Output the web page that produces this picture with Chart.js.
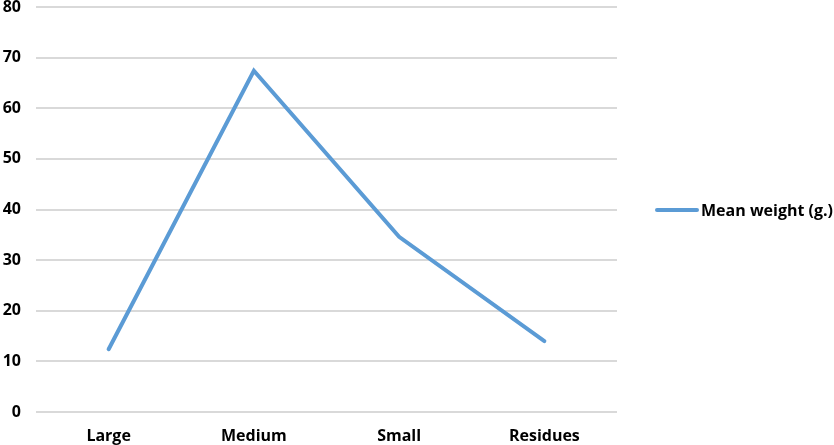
<!DOCTYPE html>
<html>
<head>
<meta charset="utf-8">
<script src="https://cdn.jsdelivr.net/npm/chart.js@4"></script>
<style>
html,body{margin:0;padding:0;background:#fff;}
#wrap{width:834px;height:445px;position:relative;}
#legend{position:absolute;left:655px;top:199px;display:flex;align-items:center;font-family:'Open Sans',Lato,sans-serif;font-weight:bold;font-size:16px;line-height:22px;color:#000;white-space:nowrap;}
#legend .sw{display:inline-block;width:44px;height:4px;border-radius:2px;background:#5B9BD5;margin-right:2px;}
</style>
</head>
<body>
<div id="wrap"><canvas id="c" width="834" height="445"></canvas>
<div id="legend"><span class="sw"></span><span id="legtext"></span></div></div>
<script>
const categories = ["Large", "Medium", "Small", "Residues"];
const meanWeight = [12.4, 67.4, 34.6, 14.0];
const seriesName = "Mean weight (g.)";
const yTicks = [0, 10, 20, 30, 40, 50, 60, 70, 80];

document.getElementById('legtext').textContent = seriesName;
const FONT = "'Open Sans', Lato, sans-serif";
new Chart(document.getElementById('c'), {
  type: 'line',
  data: {
    labels: categories,
    datasets: [{
      label: seriesName,
      data: meanWeight,
      borderColor: '#5B9BD5',
      backgroundColor: '#5B9BD5',
      borderWidth: 4,
      pointRadius: 0,
      tension: 0,
      borderCapStyle: 'round',
      borderJoinStyle: 'miter'
    }]
  },
  options: {
    responsive: false,
    animation: false,
    layout: { padding: { top: 0, left: 0, right: 217, bottom: 0 } },
    plugins: {
      legend: { display: false },
      tooltip: { enabled: false }
    },
    scales: {
      x: {
        offset: true,
        grid: { display: false, drawTicks: false },
        border: { display: false },
        afterFit: (s) => { s.height = 33; },
        ticks: { color: '#000', padding: 15, font: { family: FONT, size: 16, weight: 'bold' } }
      },
      y: {
        min: 0, max: 80,
        afterBuildTicks: (s) => { s.ticks = yTicks.map(v => ({ value: v })); },
        afterFit: (s) => { s.width = 36; s.paddingTop = 7; },
        grid: { color: '#d9d9d9', lineWidth: 2, drawTicks: false },
        border: { display: false },
        ticks: { color: '#000', padding: 15, font: { family: FONT, size: 16, weight: 'bold' } }
      }
    }
  }
});
</script>
</body>
</html>
